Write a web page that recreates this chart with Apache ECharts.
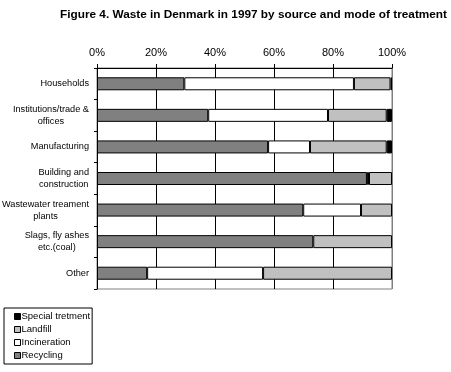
<!DOCTYPE html>
<html>
<head>
<meta charset="utf-8">
<script src="https://cdn.jsdelivr.net/npm/echarts@6/dist/echarts.min.js"></script>
<style>
  html, body { margin: 0; padding: 0; background: #fff; }
  #chart { width: 451px; height: 372px; }
</style>
</head>
<body>
<div id="chart"></div>
<script>
const titleText = 'Figure 4. Waste in Denmark in 1997 by source and mode of treatment';
const categories = [
  'Households',
  'Institutions/trade &\noffices',
  'Manufacturing',
  'Building and\nconstruction',
  'Wastewater treament\nplants',
  'Slags, fly ashes\netc.(coal)',
  'Other'
];
const recycling   = [29.6, 37.7, 58.0, 91.5, 69.9, 73.3, 17.0];
const incineration = [57.5, 40.6, 14.2, 0.7, 19.6, 0, 39.3];
const landfill    = [12.4, 19.9, 26.0, 7.8, 10.5, 26.7, 43.7];
const special     = [0.5, 1.8, 1.8, 0, 0, 0, 0];
const tickValues  = [0, 20, 40, 60, 80, 100];

const chart = echarts.init(document.getElementById('chart'), null, { renderer: 'canvas' });
const FONT = "'Liberation Sans', Arial, sans-serif";
const nz = arr => arr.map(v => (v === 0 ? null : v));

function mkSeries(name, data, color) {
  return {
    name: name,
    type: 'bar',
    stack: 'total',
    data: nz(data),
    barWidth: 13,
    itemStyle: { color: color, borderColor: '#000', borderWidth: 1 },
    emphasis: { disabled: true },
    animation: false
  };
}

chart.setOption({
  backgroundColor: '#fff',
  animation: false,
  title: {
    text: titleText,
    right: 0,
    top: 4,
    padding: [5, 4, 5, 5],
    textStyle: { fontFamily: FONT, fontSize: 11.8, fontWeight: 'bold', color: '#000' }
  },
  legend: {
    orient: 'vertical',
    left: 4,
    top: 308,
    data: ['Special tretment', 'Landfill', 'Incineration', 'Recycling'],
    itemWidth: 6,
    itemHeight: 6,
    itemGap: 0,
    padding: [2, 2, 2, 10],
    borderColor: '#000',
    borderWidth: 1,
    icon: 'rect',
    selectedMode: false,
    itemStyle: { borderColor: '#000', borderWidth: 1 },
    textStyle: { fontFamily: FONT, fontSize: 9.5, lineHeight: 13, color: '#000', padding: [0, 0, 0, -4] }
  },
  grid: {
    left: 97, right: 59, top: 68, bottom: 83,
    outerBoundsMode: 'none',
    containLabel: false,
    show: true, borderColor: '#808080', borderWidth: 1, backgroundColor: 'transparent'
  },
  xAxis: {
    type: 'value',
    position: 'top',
    min: tickValues[0],
    max: tickValues[tickValues.length - 1],
    interval: tickValues[1] - tickValues[0],
    axisLine: { show: true, lineStyle: { color: '#000', width: 1 } },
    axisTick: { show: true, length: 4, lineStyle: { color: '#000' } },
    axisLabel: { formatter: '{value}%', color: '#000', fontFamily: FONT, fontSize: 11, margin: 10 },
    splitLine: { show: true, lineStyle: { color: ['#000', '#000', '#000', '#000', '#000', '#808080'], width: 1 } }
  },
  yAxis: {
    type: 'category',
    inverse: true,
    data: categories,
    axisLine: { show: true, lineStyle: { color: '#000', width: 1 } },
    axisTick: { show: true, length: 3, lineStyle: { color: '#000' } },
    axisLabel: {
      color: '#000',
      fontFamily: FONT,
      fontSize: 9.2,
      margin: 8,
      lineHeight: 12,
      align: 'right',
      formatter: v => v.split('\n').map(s => '{c|' + s + '}').join('\n'),
      rich: { c: { align: 'center', fontFamily: FONT, fontSize: 9.2, lineHeight: 12, color: '#000' } }
    },
    splitLine: { show: false }
  },
  series: [
    mkSeries('Recycling', recycling, '#808080'),
    mkSeries('Incineration', incineration, '#ffffff'),
    mkSeries('Landfill', landfill, '#c0c0c0'),
    mkSeries('Special tretment', special, '#000000')
  ]
});
</script>
</body>
</html>
